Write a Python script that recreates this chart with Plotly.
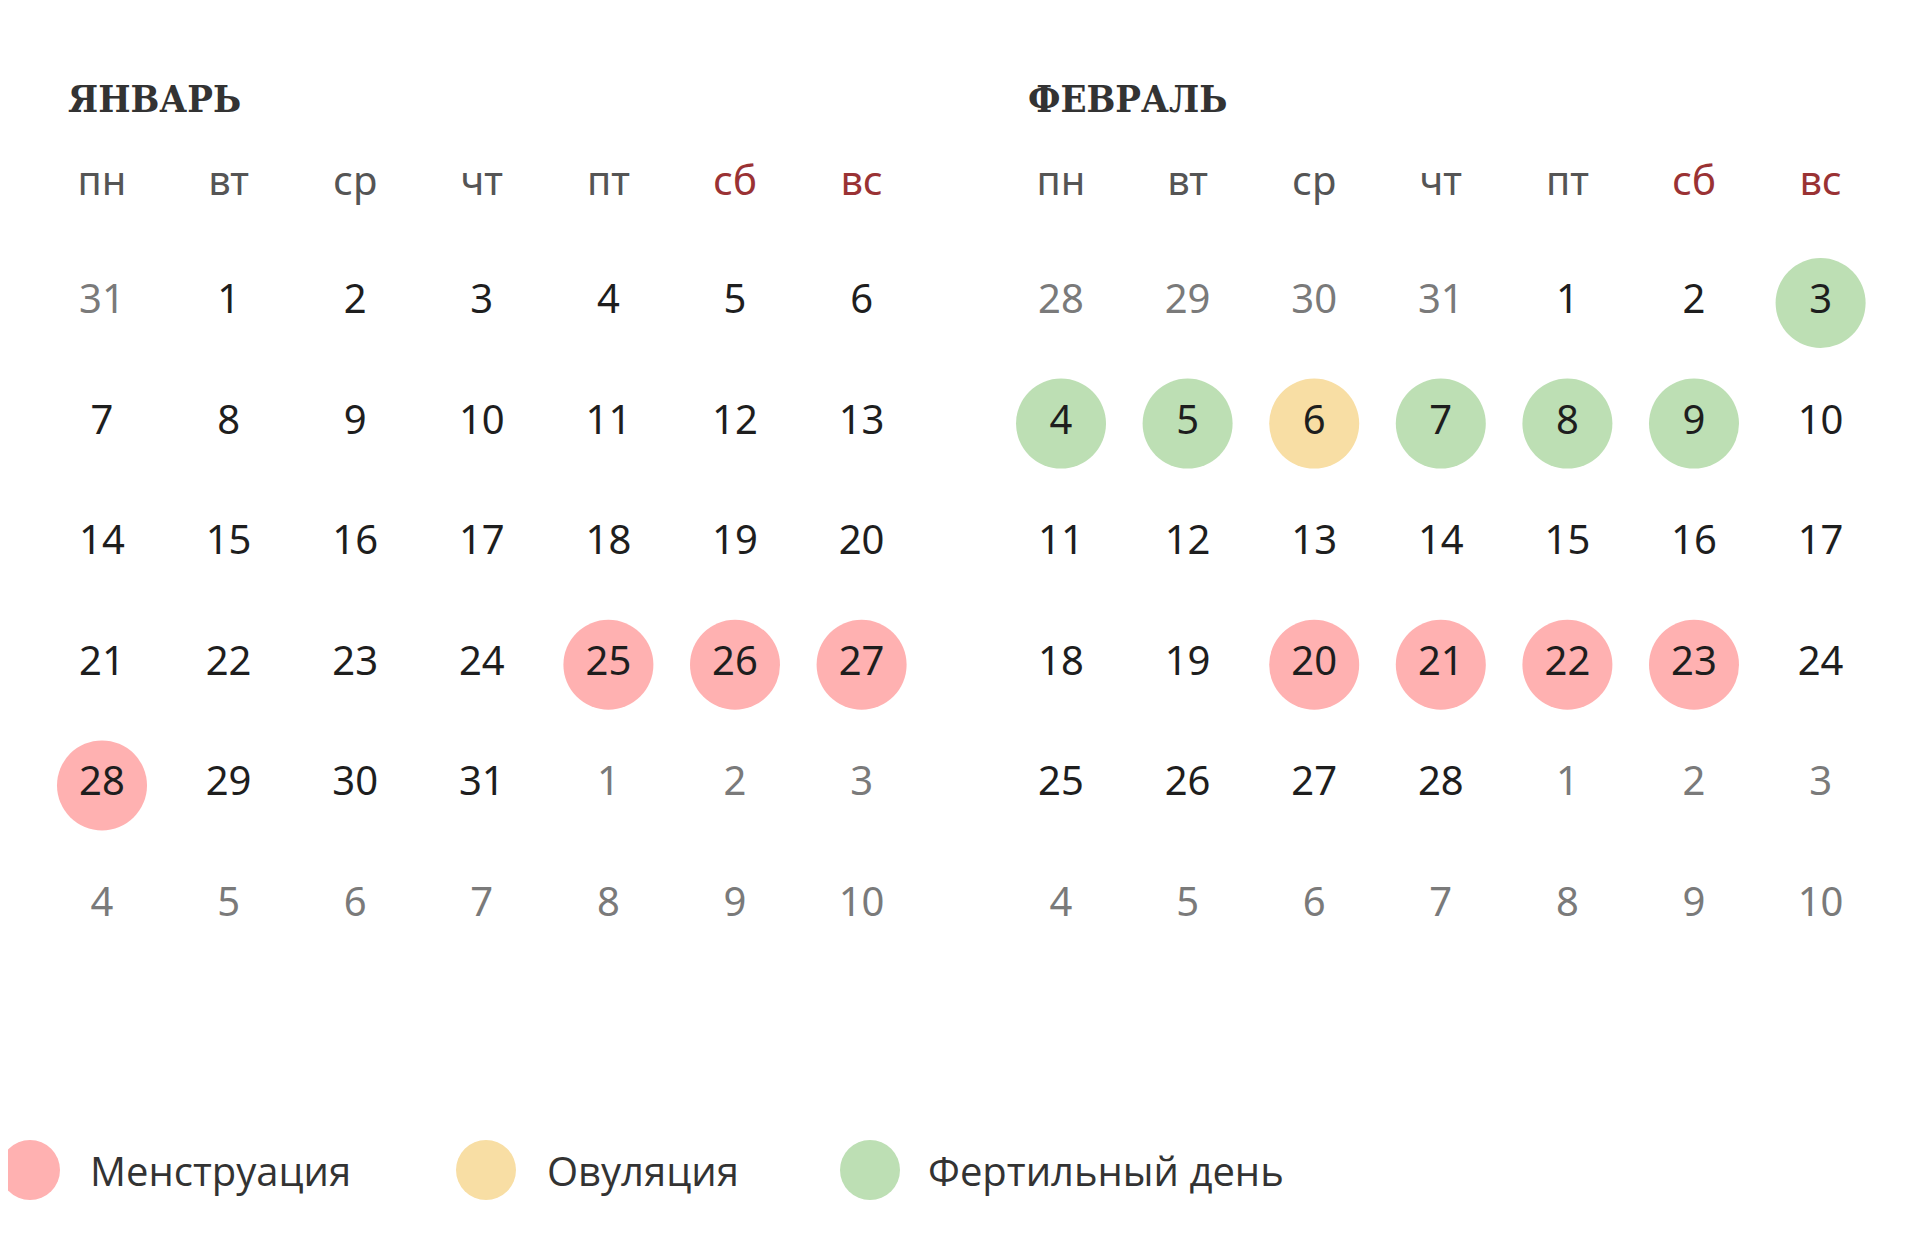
import plotly.graph_objects as go

months = ["ЯНВАРЬ", "ФЕВРАЛЬ"]
weekdays = ["пн", "вт", "ср", "чт", "пт", "сб", "вс"]

jan_days = [
    [31, 1, 2, 3, 4, 5, 6],
    [7, 8, 9, 10, 11, 12, 13],
    [14, 15, 16, 17, 18, 19, 20],
    [21, 22, 23, 24, 25, 26, 27],
    [28, 29, 30, 31, 1, 2, 3],
    [4, 5, 6, 7, 8, 9, 10],
]
jan_muted = [
    [1, 0, 0, 0, 0, 0, 0],
    [0] * 7, [0] * 7, [0] * 7,
    [0, 0, 0, 0, 1, 1, 1],
    [1] * 7,
]
feb_days = [
    [28, 29, 30, 31, 1, 2, 3],
    [4, 5, 6, 7, 8, 9, 10],
    [11, 12, 13, 14, 15, 16, 17],
    [18, 19, 20, 21, 22, 23, 24],
    [25, 26, 27, 28, 1, 2, 3],
    [4, 5, 6, 7, 8, 9, 10],
]
feb_muted = [
    [1, 1, 1, 1, 0, 0, 0],
    [0] * 7, [0] * 7, [0] * 7,
    [0, 0, 0, 0, 1, 1, 1],
    [1] * 7,
]

jan_menstruation = [25, 26, 27, 28]
jan_ovulation = []
jan_fertile = []
feb_menstruation = [20, 21, 22, 23]
feb_ovulation = [6]
feb_fertile = [3, 4, 5, 7, 8, 9]

legend_labels = ["Менструация", "Овуляция", "Фертильный день"]
colors = ["#ffb1b1", "#f8dea4", "#bddfb4"]

# layout in pixel space
col0 = [94, 1053]
col_step = 126.6
row0 = 295
row_step = 120.6
head_y = 177
title_y = 90
title_x = [58, 1018]

num_font = "Noto Sans"
fig = go.Figure()

month_data = [
    (jan_days, jan_muted, [jan_menstruation, jan_ovulation, jan_fertile]),
    (feb_days, feb_muted, [feb_menstruation, feb_ovulation, feb_fertile]),
]

for m, (days, muted, marks) in enumerate(month_data):
    # circles
    for k, sel in enumerate(marks):
        xs, ys = [], []
        for r, row in enumerate(days):
            for c, d in enumerate(row):
                if not muted[r][c] and d in sel:
                    xs.append(col0[m] + c * col_step)
                    ys.append(row0 + r * row_step)
        if xs:
            fig.add_trace(go.Scatter(x=xs, y=ys, mode="markers", hoverinfo="skip",
                                     marker=dict(size=90, color=colors[k], line=dict(width=0))))
    # numbers
    xs, ys, txt, cols = [], [], [], []
    for r, row in enumerate(days):
        for c, d in enumerate(row):
            xs.append(col0[m] + c * col_step)
            ys.append(row0 + r * row_step)
            txt.append(str(d))
            cols.append("#7a7a7a" if muted[r][c] else "#1e1e1e")
    fig.add_trace(go.Scatter(x=xs, y=ys, mode="text", text=txt, hoverinfo="skip",
                             textfont=dict(family=num_font, size=40, color=cols)))
    # weekday headers
    fig.add_trace(go.Scatter(
        x=[col0[m] + c * col_step for c in range(7)], y=[head_y] * 7,
        mode="text", text=weekdays, hoverinfo="skip",
        textfont=dict(family=num_font, size=40,
                      color=["#555555"] * 5 + ["#9a3234"] * 2)))
    fig.add_annotation(x=title_x[m], y=title_y, text="<b>" + months[m] + "</b>",
                       showarrow=False, xanchor="left", yanchor="middle",
                       font=dict(family="DejaVu Serif Condensed", size=38, color="#333333"))

# legend
leg_circle_x = [22, 478, 862]
leg_text_x = [80, 537, 918]
leg_y = 1162
fig.add_trace(go.Scatter(x=leg_circle_x, y=[leg_y] * 3, mode="markers", hoverinfo="skip",
                         marker=dict(size=60, color=colors, line=dict(width=0))))
for i, lab in enumerate(legend_labels):
    fig.add_annotation(x=leg_text_x[i], y=leg_y, text=lab, showarrow=False,
                       xanchor="left", yanchor="middle",
                       font=dict(family="Open Sans", size=40, color="#333333"))

fig.update_layout(
    width=1920, height=1239, margin=dict(l=0, r=0, t=0, b=0),
    paper_bgcolor="white", plot_bgcolor="white", showlegend=False,
    xaxis=dict(range=[0, 1920], visible=False, fixedrange=True),
    yaxis=dict(range=[1239, 0], visible=False, fixedrange=True),
)
fig.write_html("out.html", config={"displayModeBar": False})
